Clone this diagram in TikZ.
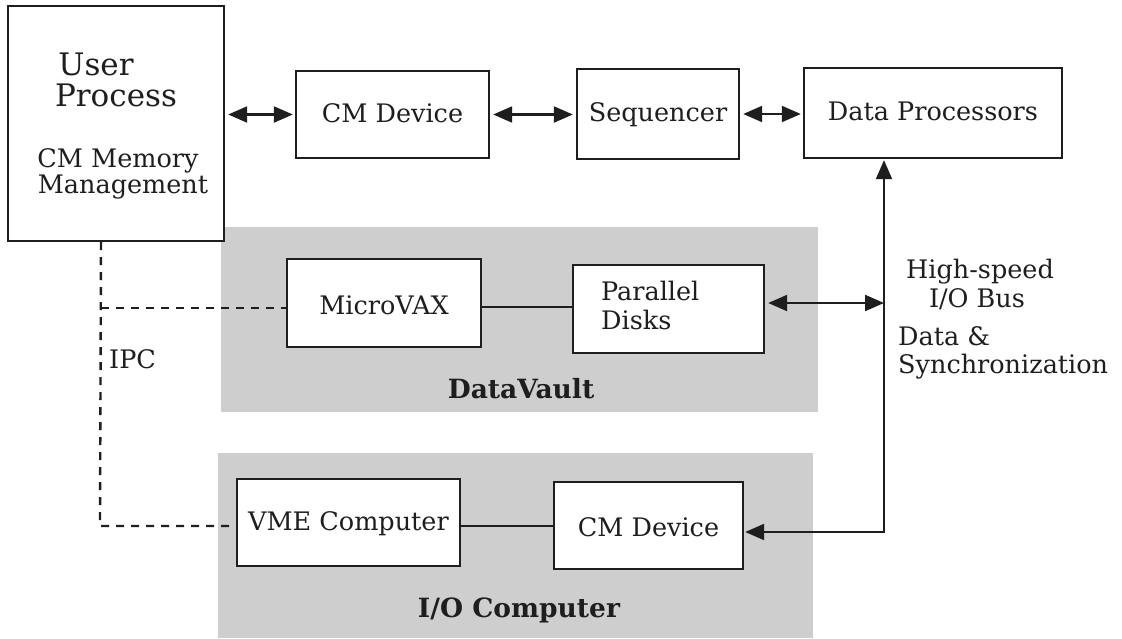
\documentclass[tikz,border=0pt]{standalone}
\usepackage{fontspec}
\setmainfont{DejaVu Serif}
\usetikzlibrary{arrows.meta,calc}
\definecolor{ink}{RGB}{30,30,30}
\definecolor{screen}{RGB}{206,206,206}
\begin{document}
\begin{tikzpicture}[x=1pt,y=-1pt,
  >={Triangle[length=19pt,width=16pt]},
  box/.style={draw=ink, line width=2.4pt, fill=white, inner sep=0pt,
    text=ink, font=\fontsize{25.5pt}{30pt}\selectfont,
    text height=20pt, text depth=5pt},
  lowtext/.style={text height=22pt, text depth=0pt},
  txt/.style={font=\fontsize{25.5pt}{30pt}\selectfont, text=ink, inner sep=0pt},
  big/.style={font=\fontsize{31pt}{36pt}\selectfont, text=ink, inner sep=0pt},
  heading/.style={font=\fontsize{26.5pt}{30pt}\selectfont\bfseries, text=ink, inner sep=0pt},
  link/.style={draw=ink, line width=2.2pt},
  both/.style={link, <->},
  ipc/.style={draw=ink, line width=2.4pt, dash pattern=on 8pt off 7pt},
]
\useasboundingbox (0,0) rectangle (1122,638);
\fill[white] (0,0) rectangle (1122,638);

% shaded subsystem panels
\fill[screen] (221,227) rectangle (818,412);
\fill[screen] (218,453) rectangle (813,638);

% front end and CM pipeline
\node[box, minimum width=216pt, minimum height=235pt] (up) at (116,123.5) {};
\node[big, anchor=base] (upA) at (96,75) {User};
\node[big, anchor=base] (upB) at (116,106) {Process};
\node[txt, anchor=base] (upC) at (118,167) {CM Memory};
\node[txt, anchor=base] (upD) at (123,193) {Management};

\node[box, minimum width=193pt, minimum height=87pt] (cm1) at (392.5,114.5) {CM Device};
\node[box, minimum width=162pt, minimum height=90pt] (seq) at (658,114) {Sequencer};
\node[box, minimum width=258pt, minimum height=90pt] (dp) at (933,113) {Data Processors};

% DataVault
\node[box, lowtext, minimum width=194pt, minimum height=88pt] (mvax) at (384,303) {MicroVAX};
\node[box, minimum width=191pt, minimum height=88pt] (pd) at (668.5,309) {};
\node[txt, anchor=base west] (pdA) at (601,300) {Parallel};
\node[txt, anchor=base west] (pdB) at (601,329) {Disks};
\node[heading, anchor=base] (dvname) at (521,398) {DataVault};

% I/O Computer
\node[box, minimum width=223pt, minimum height=87pt] (vme) at (348.5,522.5) {VME Computer};
\node[box, lowtext, minimum width=189pt, minimum height=87pt] (cm2) at (648.5,525.5) {CM Device};
\node[heading, anchor=base] (ioname) at (519,617) {I/O Computer};

% pipeline arrows
\draw[both, shorten <=3pt, shorten >=2pt] (up.east |- cm1.west) -- (cm1.west);
\draw[both, shorten <=3pt, shorten >=3pt] (cm1.east) -- (cm1.east -| seq.west);
\draw[both, shorten <=3pt, shorten >=2pt] (seq.east) -- (seq.east -| dp.west);

% high-speed I/O bus
\coordinate (busturn) at (884,532);
\coordinate (busjoin) at (884,303);
\draw[both, shorten <=1pt, shorten >=1pt] (busturn |- dp.south) -- (busturn) -- (busturn -| cm2.east);
\draw[both, shorten <=3pt] (busjoin -| pd.east) -- (busjoin);

\node[txt, anchor=base] (busA) at (980,278) {High-speed};
\node[txt, anchor=base] (busB) at (977,307) {I/O Bus};
\node[txt, anchor=base west] (busC) at (898,345) {Data \&};
\node[txt, anchor=base west] (busD) at (898,373) {Synchronization};

% local links
\coordinate (mvaxout) at ([yshift=-4pt]mvax.east);
\draw[link] (mvaxout) -- (mvaxout -| pd.west);
\coordinate (vmeout) at ([yshift=-3.5pt]vme.east);
\draw[link] (vmeout) -- (vmeout -| cm2.west);

% interprocess communication
\coordinate (ipcA) at (101,308);
\coordinate (ipcB) at (100,526);
\draw[ipc] (up.south -| ipcA) -- (ipcB) -- (ipcB -| vme.west);
\draw[ipc] (ipcA) -- (ipcA -| mvax.west);
\node[txt, anchor=base west] (ipclabel) at (109,368) {IPC};
\end{tikzpicture}
\end{document}
